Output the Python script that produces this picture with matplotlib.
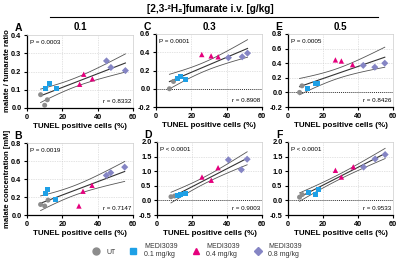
import numpy as np
import matplotlib
matplotlib.use("Agg")
import matplotlib.pyplot as plt
from matplotlib.lines import Line2D

plt.rcParams['font.family'] = ['Liberation Sans', 'DejaVu Sans']

# ---------------- data ----------------
groups = ["UT", "MEDI3039\n0.1 mg/kg", "MEDI3039\n0.4 mg/kg", "MEDI3039\n0.8 mg/kg"]
colors = ["#8c8c8c", "#1ea0e6", "#e5007d", "#8585c4"]
markers = ["o", "s", "^", "D"]

# panel A (0.1 g/kg, ratio)
A_x = [[7.7, 10.0, 11.5], [10.6, 12.5, 16.8], [29.8, 32.1, 37.0], [45.0, 47.5, 55.7]]
A_y = [[0.073, 0.015, 0.045], [0.105, 0.135, 0.107], [0.13, 0.185, 0.16], [0.258, 0.222, 0.205]]
# panel B (0.1 g/kg, concentration)
B_x = [[7.7, 10.0, 11.9], [10.4, 11.5, 16.4], [29.4, 31.7, 36.8], [44.9, 47.4, 55.3]]
B_y = [[0.117, 0.10, 0.165], [0.235, 0.283, 0.172], [0.10, 0.264, 0.33], [0.44, 0.47, 0.532]]
# panel C (0.3 g/kg, ratio)
C_x = [[7.6, 9.9], [12.4, 13.9, 16.6], [25.9, 31.2, 35.2], [41.0, 48.8, 51.8]]
C_y = [[0.0, 0.08], [0.116, 0.135, 0.098], [0.375, 0.36, 0.35], [0.34, 0.35, 0.39]]
# panel D (0.3 g/kg, concentration)
D_x = [[8.0, 10.0], [12.0, 13.3, 16.2], [25.7, 31.0, 34.9], [40.8, 48.2, 51.5]]
D_y = [[0.125, 0.15], [0.17, 0.20, 0.25], [0.80, 0.69, 1.12], [1.39, 1.05, 1.41]]
# panel E (0.5 g/kg, ratio)
E_x = [[6.6, 8.0], [11.2, 15.5, 16.9], [27.1, 30.5, 36.9], [43.0, 49.6, 55.3]]
E_y = [[0.0, 0.09], [0.05, 0.118, 0.127], [0.445, 0.43, 0.38], [0.37, 0.345, 0.40]]
# panel F (0.5 g/kg, concentration)
F_x = [[6.6, 8.1], [11.9, 15.7, 17.2], [27.1, 30.5, 37.3], [43.2, 49.8, 55.5]]
F_y = [[0.11, 0.20], [0.28, 0.19, 0.39], [1.03, 0.80, 1.15], [1.14, 1.42, 1.57]]

p_texts = ["P = 0.0003", "P = 0.0019", "P = 0.0001", "P < 0.0001", "P = 0.0005", "P < 0.0001"]
r_texts = ["r = 0.8332", "r = 0.7147", "r = 0.8908", "r = 0.9003", "r = 0.8426", "r = 0.9533"]
letters = ["A", "B", "C", "D", "E", "F"]
col_titles = ["0.1", "0.3", "0.5"]
y_ticks = [
    [0.0, 0.1, 0.2, 0.3, 0.4],
    [0.0, 0.2, 0.4, 0.6, 0.8],
    [-0.2, 0.0, 0.2, 0.4, 0.6],
    [-0.5, 0.0, 0.5, 1.0, 1.5, 2.0],
    [-0.2, 0.0, 0.2, 0.4, 0.6, 0.8],
    [-0.5, 0.0, 0.5, 1.0, 1.5, 2.0],
]
x_ticks = [0, 20, 40, 60]

panels_x = [A_x, B_x, C_x, D_x, E_x, F_x]
panels_y = [A_y, B_y, C_y, D_y, E_y, F_y]

# pixel boxes (left, top, right, bottom)
boxes = [
    (27, 35, 133, 108), (27, 143, 133, 215),
    (156, 34, 262, 107), (157, 142, 262, 215),
    (288, 34, 393, 107), (288, 142, 393, 215),
]

T975 = {6: 2.447, 7: 2.365, 8: 2.306, 9: 2.262, 10: 2.228, 11: 2.201, 12: 2.179}

W, H = 400, 267
fig = plt.figure(figsize=(4, 2.67), dpi=100)

def px_axes(l, t, r, b):
    return fig.add_axes([l / W, 1 - b / H, (r - l) / W, (b - t) / H])

for i in range(6):
    l, t, r, b = boxes[i]
    ax = px_axes(l, t, r, b)
    xs, ys = panels_x[i], panels_y[i]
    allx = np.concatenate([np.array(v) for v in xs])
    ally = np.concatenate([np.array(v) for v in ys])
    # grid
    for xv in x_ticks[1:-1]:
        ax.axvline(xv, color="#c8c8c8", lw=0.5, ls=(0, (1, 1.5)), zorder=0)
    for yv in y_ticks[i][1:-1]:
        if yv == 0:
            ax.axhline(0, color="#303030", lw=0.7, ls=(0, (1, 1)), zorder=1)
        else:
            ax.axhline(yv, color="#c8c8c8", lw=0.5, ls=(0, (1, 1.5)), zorder=0)
    # regression + 95% CI
    n = len(allx)
    slope, icpt = np.polyfit(allx, ally, 1)
    resid = ally - (icpt + slope * allx)
    s = np.sqrt(np.sum(resid ** 2) / (n - 2))
    xm = allx.mean()
    sxx = np.sum((allx - xm) ** 2)
    xx = np.linspace(allx.min(), allx.max(), 100)
    yy = icpt + slope * xx
    half = T975[n - 2] * s * np.sqrt(1 / n + (xx - xm) ** 2 / sxx)
    ax.plot(xx, yy, color="#333333", lw=0.8, zorder=2)
    ax.plot(xx, yy + half, color="#555555", lw=0.6, zorder=2)
    ax.plot(xx, yy - half, color="#555555", lw=0.6, zorder=2)
    # points
    for g in range(4):
        ax.scatter(xs[g], ys[g], s=13 if markers[g] != "^" else 15, marker=markers[g],
                   color=colors[g], edgecolors="none", zorder=3)
    ax.set_xlim(0, 60)
    ax.set_ylim(y_ticks[i][0], y_ticks[i][-1])
    ax.set_xticks(x_ticks)
    ax.set_yticks(y_ticks[i])
    ax.set_yticklabels([f"{v:.1f}" for v in y_ticks[i]])
    ax.tick_params(labelsize=5.3, length=2.5, width=0.8, pad=1.5)
    for lab in ax.get_xticklabels() + ax.get_yticklabels():
        lab.set_fontweight("bold")
    for sp in ["left", "bottom"]:
        ax.spines[sp].set_linewidth(0.9)
    for sp in ["top", "right"]:
        ax.spines[sp].set_color("#cccccc")
        ax.spines[sp].set_linewidth(0.5)
    ax.set_xlabel("TUNEL positive cells (%)", fontsize=5.8, fontweight="bold", labelpad=2)
    ax.text(0.03, 0.93, p_texts[i], transform=ax.transAxes, fontsize=4.5, va="top", ha="left")
    ax.text(0.98, 0.05, r_texts[i], transform=ax.transAxes, fontsize=4.5, va="bottom", ha="right")
    # panel letter
    fig.text((l - 9) / W, 1 - (t - 7) / H, letters[i], fontsize=7.5, fontweight="bold",
             ha="center", va="center")
    if i % 2 == 0:
        fig.text(((l + r) / 2) / W, 1 - 27 / H, col_titles[i // 2], fontsize=7,
                 fontweight="bold", ha="center", va="center")

fig.text(8 / W, 1 - 71 / H, "malate / fumarate ratio", rotation=90, fontsize=5.6,
         fontweight="bold", ha="center", va="center")
fig.text(8 / W, 1 - 179 / H, "malate concentration [mM]", rotation=90, fontsize=5.6,
         fontweight="bold", ha="center", va="center")

fig.text(210 / W, 1 - 8.5 / H, "[2,3-²H₂]fumarate i.v. [g/kg]", fontsize=7.2, fontweight="bold",
         ha="center", va="center")
fig.add_artist(Line2D([50 / W, 378 / W], [1 - 17 / H, 1 - 17 / H], color="black", lw=0.8))

handles = [Line2D([], [], marker=markers[g], color=colors[g], ls="none",
                  markersize=4 if markers[g] == "D" else 5)
           for g in range(4)]
leg = fig.legend(handles, groups, loc="center", bbox_to_anchor=(197 / W, 1 - 251 / H), ncol=4,
                 frameon=False, fontsize=5, handletextpad=1.0, columnspacing=2.1,
                 handlelength=1.0, borderpad=0)
for txt in leg.get_texts():
    txt.set_color("#333333")

fig.savefig("out.png", dpi=100)
